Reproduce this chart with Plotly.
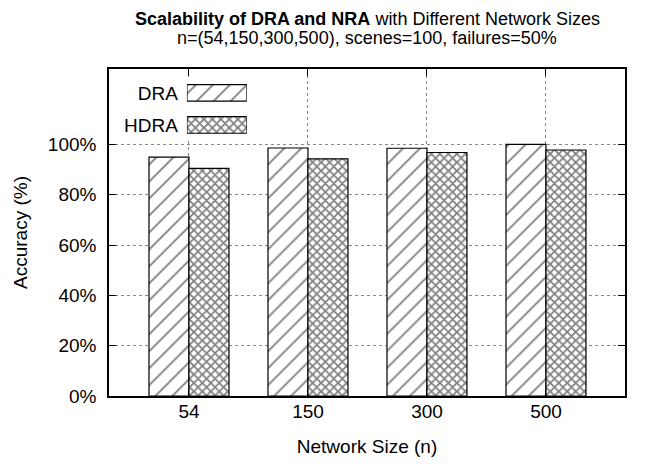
import plotly.graph_objects as go

categories = ["54", "150", "300", "500"]
dra = [95.0, 98.6, 98.5, 100.0]
hdra = [90.5, 94.3, 96.8, 97.8]
y_ticks = [0, 20, 40, 60, 80, 100]
y_tick_labels = ["0%", "20%", "40%", "60%", "80%", "100%"]
legend_names = ["DRA", "HDRA"]

FONT = "Liberation Sans, Arial, sans-serif"
BW = 0.336

DRA_PAT = dict(shape="/", size=12, solidity=0.15, fgcolor="black", bgcolor="white")
HDRA_PAT = dict(shape="x", size=6, solidity=0.5, fgcolor="black", bgcolor="white")
EDGE = dict(color="black", width=1.2)

fig = go.Figure()
fig.add_trace(go.Bar(
    x=categories, y=dra, name="DRA", width=BW, offset=-BW,
    marker=dict(color="white", line=EDGE, pattern=DRA_PAT),
    showlegend=False,
))
fig.add_trace(go.Bar(
    x=categories, y=hdra, name="HDRA", width=BW, offset=0,
    marker=dict(color="white", line=EDGE, pattern=HDRA_PAT),
    showlegend=False,
))

# key samples drawn as bars on a small inset axis
fig.add_trace(go.Bar(
    y=[legend_names[0]], x=[1], orientation="h", width=0.52, xaxis="x2", yaxis="y2",
    marker=dict(color="white", line=EDGE, pattern=DRA_PAT),
    showlegend=False, hoverinfo="skip",
))
fig.add_trace(go.Bar(
    y=[legend_names[1]], x=[1], orientation="h", width=0.52, xaxis="x2", yaxis="y2",
    marker=dict(color="white", line=EDGE, pattern=HDRA_PAT),
    showlegend=False, hoverinfo="skip",
))

fig.update_layout(
    width=645, height=464,
    margin=dict(l=101, r=28, t=61, b=76),
    paper_bgcolor="white", plot_bgcolor="white",
    font=dict(family=FONT, size=19, color="black"),
    barmode="overlay",
    xaxis=dict(
        type="category", range=[-0.672, 3.664],
        showline=True, linecolor="black", linewidth=1.5, mirror="ticks",
        ticks="inside", ticklen=7, tickcolor="black",
        showgrid=True, gridcolor="#888888", griddash="dot", gridwidth=1,
        zeroline=False, ticklabelstandoff=-3,
        title=dict(text="Network Size (n)", standoff=19, font=dict(size=19)),
        tickfont=dict(size=19),
    ),
    yaxis=dict(
        range=[0, 130], tickvals=y_ticks, ticktext=y_tick_labels,
        showline=True, linecolor="black", linewidth=1.5, mirror="ticks",
        ticks="inside", ticklen=7, tickcolor="black",
        showgrid=True, gridcolor="#888888", griddash="dot", gridwidth=1,
        zeroline=False, ticklabelstandoff=7,
        title=dict(text="Accuracy (%)", standoff=15, font=dict(size=19)),
        tickfont=dict(size=19),
    ),
    xaxis2=dict(domain=[0.151, 0.267], range=[0, 1], anchor="y2", visible=False, fixedrange=True),
    yaxis2=dict(domain=[0.780, 0.976], anchor="x2", type="category",
                categoryorder="array", categoryarray=legend_names, autorange="reversed",
                showline=False, showgrid=False, zeroline=False, ticks="",
                ticklabelstandoff=8, tickfont=dict(size=19)),
    shapes=[dict(type="rect", xref="paper", yref="paper", x0=0.005, x1=0.27, y0=0.785, y1=0.995,
                 fillcolor="white", line=dict(width=0), layer="between")],
    annotations=[
        dict(text="<b>Scalability of DRA and NRA</b> with Different Network Sizes",
             xref="paper", yref="paper", x=0.5, y=1, yshift=50, showarrow=False,
             xanchor="center", yanchor="middle", font=dict(size=18)),
        dict(text="n=(54,150,300,500), scenes=100, failures=50%",
             xref="paper", yref="paper", x=0.5, y=1, yshift=31, showarrow=False,
             xanchor="center", yanchor="middle", font=dict(size=18)),
    ],
)

fig.write_html("out.html")
